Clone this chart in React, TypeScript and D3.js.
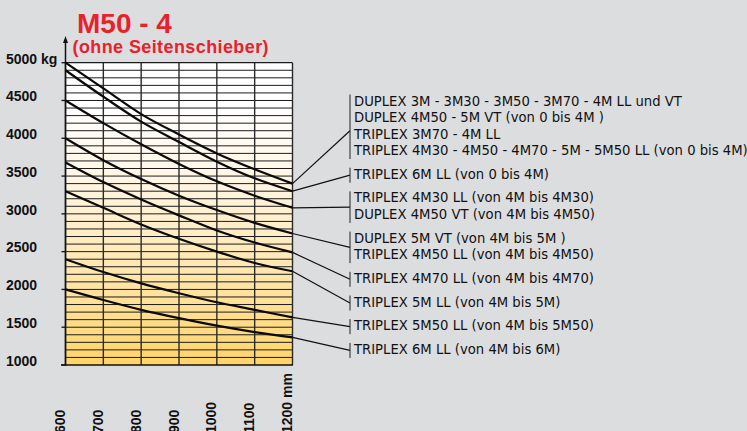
import React from 'react';
import { scaleLinear, line, curveMonotoneX, range } from 'd3';

// load capacity (kg) at load centre 600..1200 mm, one array per curve
const centres = [600, 700, 800, 900, 1000, 1100, 1200];
const curveA = [5000, 4660, 4320, 4050, 3800, 3590, 3400];
const curveB = [4900, 4550, 4220, 3950, 3690, 3470, 3300];
const curveC = [4500, 4200, 3920, 3660, 3430, 3240, 3080];
const curveD = [4000, 3710, 3460, 3240, 3050, 2880, 2740];
const curveE = [3680, 3420, 3190, 2980, 2780, 2620, 2490];
const curveF = [3300, 3080, 2860, 2670, 2500, 2350, 2240];
const curveG = [2400, 2230, 2080, 1950, 1830, 1730, 1630];
const curveH = [2000, 1860, 1730, 1620, 1520, 1435, 1365];
const curves = [curveA, curveB, curveC, curveD, curveE, curveF, curveG, curveH];

const yTicks = [5000, 4500, 4000, 3500, 3000, 2500, 2000, 1500, 1000];

const legendGroups = [
  ['DUPLEX 3M - 3M30 - 3M50 - 3M70 - 4M LL und VT',
   'DUPLEX 4M50 - 5M VT (von 0 bis 4M )',
   'TRIPLEX 3M70 - 4M LL',
   'TRIPLEX 4M30 - 4M50 - 4M70 - 5M - 5M50 LL (von 0 bis 4M)'],
  ['TRIPLEX 6M LL (von 0 bis 4M)'],
  ['TRIPLEX 4M30 LL (von 4M bis 4M30)', 'DUPLEX 4M50 VT (von 4M bis 4M50)'],
  ['DUPLEX 5M VT (von 4M bis 5M )', 'TRIPLEX 4M50 LL (von 4M bis 4M50)'],
  ['TRIPLEX 4M70 LL (von 4M bis 4M70)'],
  ['TRIPLEX 5M LL (von 4M bis 5M)'],
  ['TRIPLEX 5M50 LL (von 4M bis 5M50)'],
  ['TRIPLEX 6M LL (von 4M bis 6M)'],
];

export default function App() {
  const W = 747, H = 431;
  const x = scaleLinear().domain([600, 1200]).range([65.5, 292.5]);
  const y = scaleLinear().domain([1000, 5000]).range([365, 62.7]);

  const lineGen = line<number>()
    .x((d, i) => x(centres[i]))
    .y(d => y(d))
    .curve(curveMonotoneX);

  const minorY = range(1100, 5000, 100);

  // legend layout
  const lineH = 16.5, groupGap = 7.2;
  let cursor = 105.5;
  const groups = legendGroups.map((g) => {
    const baselines = g.map((_, i) => cursor + i * lineH);
    cursor = baselines[baselines.length - 1] + lineH + groupGap;
    const top = baselines[0] - 11;
    const bottom = baselines[baselines.length - 1] + 4;
    return { lines: g, baselines, top, bottom, mid: (top + bottom) / 2 + (g.length > 2 ? 4 : 0) };
  });

  const bracketX = 350;
  const labelFont = '"Liberation Sans", Arial, sans-serif';

  return (
    <svg width={W} height={H} style={{ position: 'absolute', left: 0, top: 0, display: 'block' }}>
      <defs>
        <linearGradient id="fill" x1="0" y1={y(5000)} x2="0" y2={y(1000)} gradientUnits="userSpaceOnUse">
          <stop offset="0%" stopColor="#ffffff" />
          <stop offset="14%" stopColor="#ffffff" />
          <stop offset="40%" stopColor="#fff5e2" />
          <stop offset="70%" stopColor="#ffe6ac" />
          <stop offset="100%" stopColor="#ffd468" />
        </linearGradient>
      </defs>
      <rect width={W} height={H} fill="#dcdddf" />

      {/* title */}
      <text x={77} y={33} fontFamily={labelFont} fontWeight="bold" fontSize={28} fill="#e8222c">M50 - 4</text>
      <text x={72.5} y={53} fontFamily={labelFont} fontWeight="bold" fontSize={18} letterSpacing={0.4} fill="#e8222c">(ohne Seitenschieber)</text>

      {/* plot background */}
      <rect x={x(600)} y={y(5000)} width={x(1200) - x(600)} height={y(1000) - y(5000)} fill="url(#fill)" />

      {/* grid */}
      {minorY.map(v => (
        <line key={'h' + v} x1={x(600)} x2={x(1200)} y1={y(v)} y2={y(v)} stroke="#1c1c1c" strokeWidth={1} />
      ))}
      {centres.map(c => (
        <line key={'v' + c} x1={x(c)} x2={x(c)} y1={y(5000)} y2={y(1000)} stroke="#2a2a2a" strokeWidth={1.4} />
      ))}
      <line x1={x(600)} x2={x(1200)} y1={y(5000)} y2={y(5000)} stroke="#1c1c1c" strokeWidth={1.2} />

      {/* axes */}
      <line x1={x(600)} x2={x(600)} y1={40} y2={y(1000) + 0.5} stroke="#111" strokeWidth={1.5} />
      <path d={`M${x(600) - 2.5},${43} L${x(600)},${36} L${x(600) + 2.5},${43} Z`} fill="#111" />
      <line x1={61} x2={x(1200) + 0.5} y1={y(1000)} y2={y(1000)} stroke="#111" strokeWidth={1.6} />
      {yTicks.map(t => (
        <g key={'t' + t}>
          <line x1={61.5} x2={x(600)} y1={y(t)} y2={y(t)} stroke="#111" strokeWidth={1.3} />
          <text x={6} y={y(t) + 0.8} fontFamily={labelFont} fontWeight="bold" fontSize={14} fill="#111">
            {t === 5000 ? '5000 kg' : t}
          </text>
        </g>
      ))}
      {centres.map(c => (
        <text key={'x' + c} transform={`translate(${x(c) - 0.5},433) rotate(-90)`}
          fontFamily={labelFont} fontWeight="bold" fontSize={14} fill="#111">
          {c === 1200 ? '1200 mm' : c}
        </text>
      ))}

      {/* curves */}
      {curves.map((c, i) => (
        <path key={'c' + i} d={lineGen(c) || ''} fill="none" stroke="#0a0a0a" strokeWidth={2.2} />
      ))}

      {/* legend */}
      {groups.map((g, i) => (
        <g key={'g' + i}>
          <line x1={x(1200)} y1={y(curves[i][curves[i].length - 1])} x2={bracketX} y2={g.mid} stroke="#111" strokeWidth={1.2} />
          <line x1={bracketX} x2={bracketX} y1={g.top} y2={g.bottom} stroke="#222" strokeWidth={1} />
          {g.lines.map((t, j) => (
            <text key={j} x={354} y={g.baselines[j]} fontFamily='"DejaVu Sans", Verdana, sans-serif' fontSize={13.2} fill="#111">{t}</text>
          ))}
        </g>
      ))}
    </svg>
  );
}
